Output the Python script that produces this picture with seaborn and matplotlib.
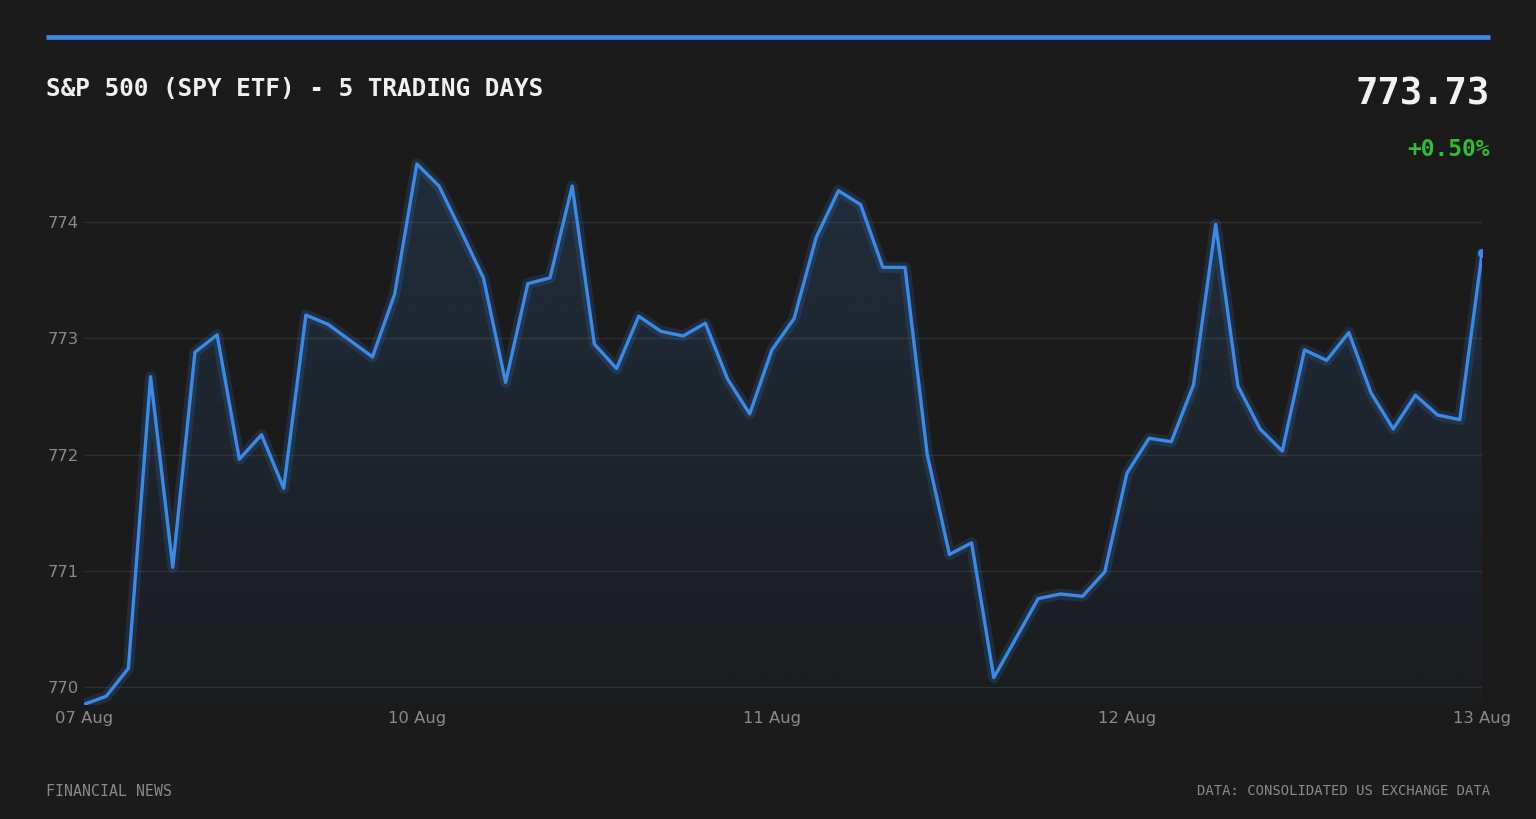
import numpy as np
import pandas as pd
import matplotlib
matplotlib.use("Agg")
import matplotlib.pyplot as plt
import seaborn as sns
from matplotlib.colors import to_rgb

# ---------------- data ----------------
day_labels = ["07 Aug", "10 Aug", "11 Aug", "12 Aug", "13 Aug"]
points_per_day = [15, 16, 16, 16, 1]
prices = [
    769.85, 769.92, 770.16, 772.67, 771.03, 772.88, 773.03, 771.96, 772.17, 771.71,
    773.20, 773.12, 772.98, 772.84, 773.38, 774.50, 774.31, 773.92, 773.52, 772.62,
    773.47, 773.52, 774.31, 772.95, 772.74, 773.19, 773.06, 773.02, 773.13, 772.65,
    772.35, 772.90, 773.17, 773.87, 774.27, 774.15, 773.61, 773.61, 772.00, 771.14,
    771.24, 770.08, 770.42, 770.76, 770.80, 770.78, 770.99, 771.84, 772.14, 772.11,
    772.60, 773.98, 772.59, 772.22, 772.03, 772.90, 772.81, 773.05, 772.53, 772.22,
    772.51, 772.34, 772.30, 773.73,
]
y_ticks = [770, 771, 772, 773, 774]
title = "S&P 500 (SPY ETF) - 5 TRADING DAYS"
last_price_text = "773.73"
change_text = "+0.50%"
footer_left = "FINANCIAL NEWS"
footer_right = "DATA: CONSOLIDATED US EXCHANGE DATA"

# ---------------- style ----------------
BG = "#1b1b1b"
BLUE = "#3b8ae6"
GRID = "#2e2e2e"
TICK = "#8a8a8a"
GREEN = "#2fbf2f"

sns.set_theme(style="dark")
plt.rcParams["font.family"] = ["DejaVu Sans"]

df = pd.DataFrame({"idx": np.arange(len(prices)), "price": prices})
tick_pos = np.concatenate([[0], np.cumsum(points_per_day)[:-1]])
tick_pos = list(tick_pos[:-1]) + [len(prices) - 1]

fig = plt.figure(figsize=(15.36, 8.19), dpi=100, facecolor=BG)
ax = fig.add_axes([84 / 1536, 1 - 705 / 819, 1398 / 1536, 555 / 819])
ax.set_facecolor(BG)

YMIN, YMAX = 769.845, 774.62
ax.set_xlim(0, len(prices) - 1)
ax.set_ylim(YMIN, YMAX)

# gradient fill under the line
fill = ax.fill_between(df["idx"], df["price"], YMIN, facecolor="none", edgecolor="none")
r, g, b = to_rgb(BLUE)
grad = np.zeros((256, 2, 4))
grad[:, :, 0] = r
grad[:, :, 1] = g
grad[:, :, 2] = b
grad[:, :, 3] = np.linspace(0.165, 0.025, 256)[:, None]
im = ax.imshow(grad, extent=[0, len(prices) - 1, YMIN, 774.55], aspect="auto",
               origin="upper", zorder=1, interpolation="bilinear")
im.set_clip_path(fill.get_paths()[0], transform=ax.transData)
ax.set_xlim(0, len(prices) - 1)
ax.set_ylim(YMIN, YMAX)

# glow + line
sns.lineplot(data=df, x="idx", y="price", ax=ax, color=BLUE, linewidth=8, alpha=0.16, zorder=2)
sns.lineplot(data=df, x="idx", y="price", ax=ax, color=BLUE, linewidth=2.4, zorder=3)
ax.scatter([df["idx"].iloc[-1]], [df["price"].iloc[-1]], s=30, color=BLUE, zorder=4, clip_on=True)

# axes cosmetics
ax.set_yticks(y_ticks)
ax.set_yticklabels([str(t) for t in y_ticks])
ax.set_xticks(tick_pos)
ax.set_xticklabels(day_labels)
ax.grid(axis="y", color=GRID, linewidth=1)
ax.grid(axis="x", visible=False)
ax.set_axisbelow(True)
for s in ax.spines.values():
    s.set_visible(False)
ax.tick_params(axis="both", colors=TICK, labelsize=11.8, length=0)
ax.tick_params(axis="y", pad=4)
ax.tick_params(axis="x", pad=4)
ax.set_xlabel("")
ax.set_ylabel("")

# header / footer
fig.add_artist(plt.Line2D([46 / 1536, 1490 / 1536], [1 - 37 / 819, 1 - 37 / 819],
                          color=BLUE, linewidth=3.4, solid_capstyle="butt",
                          transform=fig.transFigure))
fig.text(46 / 1536, 1 - 89 / 819, title, family="DejaVu Sans Mono", weight="bold",
         fontsize=17.6, color="#f0f0f0", ha="left", va="center")
fig.text(1490 / 1536, 1 - 94 / 819, last_price_text, family="DejaVu Sans Mono", weight="bold",
         fontsize=26.8, color="#f2f2f2", ha="right", va="center")
fig.text(1490 / 1536, 1 - 149 / 819, change_text, family="DejaVu Sans Mono", weight="bold",
         fontsize=16.5, color=GREEN, ha="right", va="center")
fig.text(46 / 1536, 1 - 791 / 819, footer_left, family="DejaVu Sans Mono",
         fontsize=10.7, color=TICK, ha="left", va="center")
fig.text(1490 / 1536, 1 - 791 / 819, footer_right, family="DejaVu Sans Mono",
         fontsize=10, color=TICK, ha="right", va="center")

fig.savefig("out.png", dpi=100, facecolor=BG)
